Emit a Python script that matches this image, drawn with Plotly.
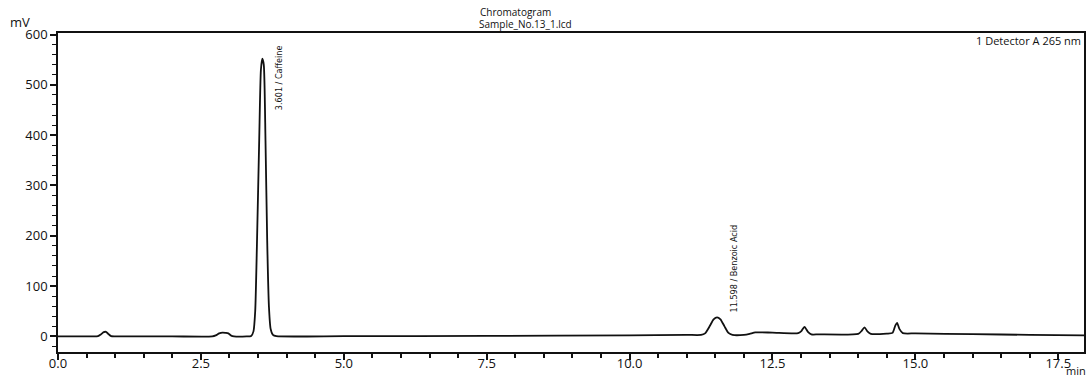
import plotly.graph_objects as go

# Retention time (min) and detector signal (mV)
time_min = [0.0, 0.60, 0.70, 0.75, 0.80, 0.84, 0.88, 0.93, 1.0, 2.0,
            2.70, 2.76, 2.82, 2.88, 2.93, 2.98, 3.03, 3.08,
            3.30, 3.38, 3.42, 3.45, 3.48, 3.52, 3.55, 3.575, 3.60, 3.63, 3.66, 3.69, 3.72, 3.76, 3.82,
            5.0, 7.5, 10.0, 11.0, 11.25, 11.32, 11.40, 11.47, 11.53, 11.59, 11.66, 11.73, 11.80,
            12.0, 12.10, 12.20, 12.50, 12.95, 13.00, 13.06, 13.12, 13.18, 13.30,
            14.0, 14.06, 14.11, 14.16, 14.22, 14.50, 14.60, 14.65, 14.68, 14.72, 14.78,
            15.0, 16.0, 17.0, 17.95]
signal_mv = [0, 0, 0.5, 4, 8.5, 9, 5, 0.5, 0, 0,
             0, 2, 6, 7.5, 7, 6, 1.5, 0,
             0, 1, 10, 50, 180, 390, 530, 552, 540, 390, 190, 60, 15, 3, 0.5,
             0.5, 1, 2, 3, 3, 6, 20, 34, 38, 34, 20, 7, 3,
             3, 5, 8, 7.5, 6.5, 10, 19, 9, 4, 4,
             5, 11, 18, 10, 5, 5.5, 7, 22, 27, 15, 6.5,
             6, 4.5, 3, 2]

# Peak labels
peak_labels = ["3.601 / Caffeine", "11.598 / Benzoic Acid"]
peak_label_x = [3.86, 11.83]
peak_label_y = [446, 44]

x_ticks = [0.0, 2.5, 5.0, 7.5, 10.0, 12.5, 15.0, 17.5]
y_ticks = [0, 100, 200, 300, 400, 500, 600]

FONT = "Open Sans, DejaVu Sans, sans-serif"
NARROW = "Liberation Sans Narrow, DejaVu Sans Condensed, Arial Narrow, sans-serif"

W, H = 1086, 377
L, R, T, B = 58, 2, 33, 25
pw, ph = W - L - R, H - T - B


def px(x):
    return (x - L) / pw


def py(y):
    return (H - B - y) / ph


fig = go.Figure()
fig.add_trace(go.Scatter(
    x=time_min, y=signal_mv, mode="lines",
    line=dict(color="#111111", width=1.8, shape="spline", smoothing=0.6),
    hoverinfo="skip", showlegend=False,
))

for txt, lx, ly in zip(peak_labels, peak_label_x, peak_label_y):
    fig.add_annotation(x=lx, y=ly, xref="x", yref="y", text=txt, textangle=-90,
                       showarrow=False, xanchor="center", yanchor="bottom",
                       font=dict(family=NARROW, size=9, color="#111111"))

header = [
    ("Chromatogram", 478, 12, "left", 10),
    ("Sample_No.13_1.lcd", 477, 24, "left", 10),
    ("mV", 8, 22, "left", 13),
    ("1 Detector A 265 nm", 1083, 40, "right", 11),
    ("min", 1064, 370, "left", 11),
]
for txt, x, y, anc, sz in header:
    fig.add_annotation(x=px(x), y=py(y), xref="paper", yref="paper", text=txt,
                       showarrow=False, xanchor=anc, yanchor="middle",
                       font=dict(family=FONT, size=sz, color="#111111"))

fig.update_layout(
    width=W, height=H,
    margin=dict(l=L, r=R, t=T, b=B, autoexpand=False),
    paper_bgcolor="white", plot_bgcolor="white",
    font=dict(family=FONT, size=13, color="#111111"),
    xaxis=dict(range=[0, 17.95], tickvals=x_ticks, tickformat=".1f",
               showgrid=False, zeroline=False, automargin=False,
               showline=True, linecolor="#111111", linewidth=1.5, mirror=True,
               ticks="outside", ticklen=6, tickwidth=1.5, tickcolor="#111111",
               ticklabelstandoff=-7,
               minor=dict(dtick=0.5, ticks="outside", ticklen=4, tickwidth=1.5, tickcolor="#111111"),
               tickfont=dict(size=13)),
    yaxis=dict(range=[-31, 603], tickvals=y_ticks,
               showgrid=False, zeroline=False, automargin=False,
               showline=True, linecolor="#111111", linewidth=1.5, mirror=True,
               ticks="outside", ticklen=6, tickwidth=1.5, tickcolor="#111111",
               minor=dict(dtick=20, ticks="outside", ticklen=4, tickwidth=1.2, tickcolor="#111111"),
               tickfont=dict(size=13)),
)

fig.write_html("out.html", config={"displayModeBar": False},
               post_script="document.body.style.margin='0';document.body.style.overflow='hidden';")
